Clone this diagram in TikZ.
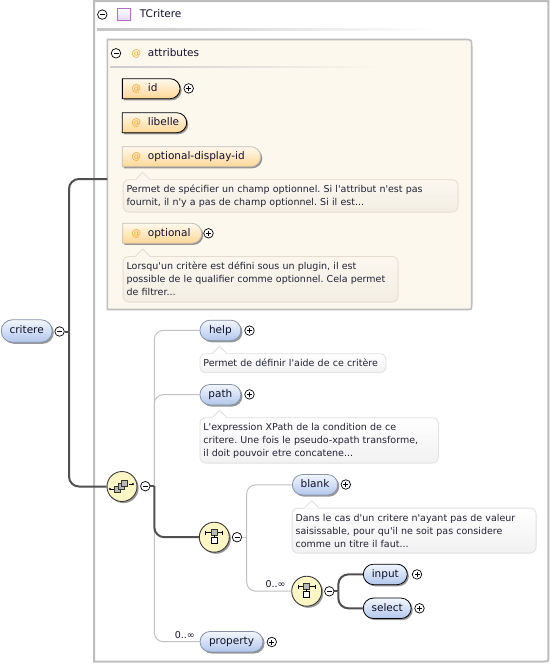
\documentclass[tikz,border=0pt]{standalone}
\usepackage{fontspec}
\setmainfont{DejaVu Sans}[Ligatures=TeXOff]
\usetikzlibrary{shapes.misc,shadows}
\definecolor{boxGray}{HTML}{BDBDBD}
\definecolor{cream}{HTML}{FDF8EE}
\definecolor{elTop}{HTML}{F2F6FD}
\definecolor{elBot}{HTML}{B2C7EC}
\definecolor{elBorder}{HTML}{8692A8}
\definecolor{atTop}{HTML}{FFF9EE}
\definecolor{atBot}{HTML}{FFD795}
\definecolor{atBorder}{HTML}{C2BEB6}
\definecolor{atSym}{HTML}{F0A028}
\definecolor{dscTopA}{HTML}{FBF7EF}
\definecolor{dscBotA}{HTML}{F3EEE3}
\definecolor{dscLineA}{HTML}{E4DDCF}
\definecolor{dscTopB}{HTML}{FFFFFF}
\definecolor{dscBotB}{HTML}{F1F1F1}
\definecolor{dscLineB}{HTML}{E0E0E0}
\definecolor{compFill}{HTML}{FCF6C4}
\definecolor{compLine}{HTML}{3A3A3A}
\definecolor{thinLine}{HTML}{C2C2C2}
\definecolor{thickLine}{HTML}{505050}
\definecolor{txt}{HTML}{10102A}
\definecolor{dtxt}{HTML}{222234}
\definecolor{purpleLine}{HTML}{B070C8}
\definecolor{purpleFill}{HTML}{E2D4F0}
\newcommand\lblfont{\fontsize{10.5}{12}\selectfont}
\newcommand\dscfont{\fontsize{9.5}{13}\selectfont}
\newcommand\atsym{\makebox[16.2pt][l]{\textcolor{atSym}{\fontsize{9.5}{10}\selectfont @}}}
\newcommand\descptr[3]{%
  \fill[#2] ([xshift=13pt,yshift=-1pt]#1.north west) -- ([xshift=20pt,yshift=7pt]#1.north west) -- ([xshift=27pt,yshift=-1pt]#1.north west) -- cycle;
  \draw[#3, line width=0.8pt] ([xshift=13pt]#1.north west) -- ([xshift=20pt,yshift=7pt]#1.north west) -- ([xshift=27pt]#1.north west);}
\tikzset{
  shd/.style={drop shadow={shadow xshift=1.6pt,shadow yshift=-1.6pt,opacity=0.4,fill=black}},
  elem/.style={rounded rectangle, draw=elBorder, line width=0.8pt, top color=elTop, bottom color=elBot,
    minimum height=20.5pt, inner sep=0pt, font=\lblfont, text=txt, text height=7.5pt, text depth=2pt, shd},
  reqd/.style={draw=black},
  attrshape/.style={rounded rectangle, rounded rectangle left arc=none, draw=atBorder, line width=0.8pt,
    top color=atTop, bottom color=atBot, minimum height=20pt, inner sep=0pt, shd},
  attrtext/.style={font=\lblfont, text=txt, inner sep=0pt, anchor=west, text height=7.5pt, text depth=2pt},
  descA/.style={rectangle, rounded corners=6pt, draw=dscLineA, line width=0.8pt, top color=dscTopA, bottom color=dscBotA,
    anchor=north west, align=left, font=\dscfont\frenchspacing, text=dtxt, inner xsep=3.5pt, inner ysep=0pt},
  descB/.style={descA, draw=dscLineB, top color=dscTopB, bottom color=dscBotB},
  pmbase/.style={circle, draw=black, line width=0.7pt, fill=white, minimum size=9.5pt, inner sep=0pt},
  minus/.style={pmbase, path picture={\draw[line width=0.8pt] ([xshift=-2.5pt]path picture bounding box.center) -- ([xshift=2.5pt]path picture bounding box.center);}},
  plus/.style={pmbase, path picture={\draw[line width=0.8pt] ([xshift=-2.5pt]path picture bounding box.center) -- ([xshift=2.5pt]path picture bounding box.center)
      ([yshift=-2.5pt]path picture bounding box.center) -- ([yshift=2.5pt]path picture bounding box.center);}},
  comp/.style={circle, draw=compLine, line width=0.9pt, fill=compFill, minimum size=30pt, inner sep=0pt, shd},
  thinc/.style={draw=thinLine, line width=1pt, rounded corners=9pt},
  thickc/.style={draw=thickLine, line width=2pt, rounded corners=10pt},
  mult/.style={font=\dscfont, text=txt, inner sep=0pt, anchor=east, text height=7pt, text depth=0pt},
}
\begin{document}
\begin{tikzpicture}[x=1pt,y=-1pt]
\useasboundingbox (0,0) rectangle (551,665);
\fill[white] (0,0) rectangle (551,665);

% outer complex type box
\draw[boxGray, line width=2pt] (94,1) -- (548.3,1) -- (548.3,657) .. controls (548.3,661.5) .. (544,661.5) -- (94,661.5) -- cycle;
\node[minus] (mtc) at (102.3,14.6) {};
\node[draw=purpleLine, line width=0.9pt, minimum size=12.5pt, inner sep=0pt, top color=white, bottom color=purpleFill] (tico) at (123.7,14.5) {};
\node[attrtext] (tcrit) at (139.7,14.7) {TCritere};
\shade[left color=black!22, right color=white] (97,28.2) rectangle (436,30);

% attributes group
\path[fill=cream, draw=boxGray, line width=1.6pt] (107.3,39.5) -- (464.5,39.5) .. controls (471.7,39.5) .. (471.7,46.7) -- (471.7,304.5) .. controls (471.7,309.5) .. (466.7,309.5) -- (107.3,309.5) -- cycle;
\coordinate (attrL) at (107.3,179);
\node[minus] (matt) at (116,53.3) {};
\node[attrtext] (atth) at (131.5,53.3) {\atsym attributes};
\shade[left color=black!20, right color=cream] (110,66) rectangle (380,67.6);

\node[attrshape, reqd, minimum width=57.7pt] (aid) at (151.2,88.7) {};
\node[attrtext] at (131.5,88.7) {\atsym id};
\node[plus] (pid) at (188.7,88.4) {};

\node[attrshape, reqd, minimum width=64.4pt] (alib) at (154.5,122.7) {};
\node[attrtext] at (131.5,122.7) {\atsym libelle};

\node[attrshape, minimum width=138.4pt] (aodi) at (191.5,156.7) {};
\node[attrtext] at (131.5,156.7) {\atsym optional-display-id};
\node[descA, text width=328pt, minimum height=32.4pt] (d1) at (122.7,179.3)
  {\mbox{Permet de spécifier un champ optionnel. Si l'attribut n'est pas}\\\mbox{fournit, il n'y a pas de champ optionnel. Si il est...}};
\descptr{d1}{dscTopA}{dscLineA}

\node[attrshape, minimum width=79pt] (aopt) at (162.2,233.3) {};
\node[attrtext] at (131.5,233.3) {\atsym optional};
\node[plus] (popt) at (208.5,233.3) {};
\node[descA, text width=268pt, minimum height=45.7pt] (d2) at (122.7,256)
  {\mbox{Lorsqu'un critère est défini sous un plugin, il est}\\\mbox{possible de le qualifier comme optionnel. Cela permet}\\\mbox{de filtrer...}};
\descptr{d2}{dscTopA}{dscLineA}

% root element
\node[elem, minimum width=51pt, minimum height=22.5pt] (critere) at (26.7,331) {critere};
\node[minus] (mcrit) at (59.6,331.5) {};
\coordinate (vx) at (69,331.5);

% sequence
\node[comp] (seq) at (122,486.5) {};
\begin{scope}[shift={(seq.center)}, line width=0.8pt]
  \draw (-12,2.5) -- (-7,2.5); \fill (-12,2.5) circle (1.2);
  \draw (7,-2.5) -- (11,-2.5); \fill (11,-2.5) circle (1.2);
  \filldraw[fill=gray!55, draw=black!80] (-7.5,0) rectangle (-1.5,6);
  \filldraw[fill=gray!55, draw=black!80] (-4,-3) rectangle (2,3);
  \filldraw[fill=gray!55, draw=black!80] (-0.5,-6) rectangle (5.5,0);
\end{scope}
\node[minus] (mseq) at (145.3,486.2) {};
\coordinate (sx) at (154.3,486.2);

\node[elem, minimum width=41pt] (help) at (220.4,330.4) {help};
\node[plus] (phelp) at (249.5,330.6) {};
\node[descB, text width=179pt, minimum height=19pt] (dh) at (199.5,353.3)
  {\mbox{Permet de définir l'aide de ce critère}};
\descptr{dh}{dscTopB}{dscLineB}

\node[elem, minimum width=41pt] (path) at (220.4,394.7) {path};
\node[plus] (ppath) at (249.5,394.4) {};
\node[descB, text width=231.5pt, minimum height=45.4pt] (dp) at (199.5,417.3)
  {\mbox{L'expression XPath de la condition de ce}\\\mbox{critere. Une fois le pseudo-xpath transforme,}\\\mbox{il doit pouvoir etre concatene...}};
\descptr{dp}{dscTopB}{dscLineB}

% choice 1
\node[comp] (ch1) at (214.3,537.2) {};
\node[minus] (mch1) at (237,537.2) {};
\coordinate (cx) at (246.7,537.2);

\node[elem, minimum width=45.4pt] (blank) at (315,484.8) {blank};
\node[plus] (pblank) at (345.8,484.5) {};
\node[descB, text width=237pt, minimum height=45pt] (db) at (291.7,507.7)
  {\mbox{Dans le cas d'un critere n'ayant pas de valeur}\\\mbox{saisissable, pour qu'il ne soit pas considere}\\\mbox{comme un titre il faut...}};
\descptr{db}{dscTopB}{dscLineB}

% choice 2
\node[comp] (ch2) at (306.7,591.2) {};
\node[minus] (mch2) at (329.3,591.3) {};
\coordinate (c2x) at (338.3,591.3);

\node[elem, reqd, minimum width=44pt] (input) at (385.3,574.4) {input};
\node[plus] (pinput) at (417,574.4) {};
\node[elem, reqd, minimum width=48pt] (select) at (387.2,608.3) {select};
\node[plus] (pselect) at (419.5,608.3) {};

\node[elem, minimum width=63pt] (property) at (231.5,641.7) {property};
\node[plus] (pprop) at (271.8,642) {};

\foreach \ch in {ch1,ch2}{
\begin{scope}[shift={(\ch.center)}, line width=0.8pt]
  \draw (-8.5,-4.5) -- (8.5,-4.5);
  \draw (-8.5,-6.5) -- (-8.5,-2.5) (8.5,-6.5) -- (8.5,-2.5);
  \filldraw[fill=gray!55, draw=black!80] (-3,-7.5) rectangle (3,-2);
  \draw (0,-2) -- (0,0.5);
  \filldraw[fill=white, draw=black] (-3,0.5) rectangle (3,6.5);
\end{scope}}

\node[mult] (m1) at ([xshift=-5.5pt,yshift=7pt]ch2.west) {0..∞};
\node[mult] (m2) at ([xshift=-4.5pt,yshift=6.5pt]property.west) {0..∞};

% connectors
\draw[thinc] (sx) |- (help.west);
\draw[thinc] (sx) |- (path.west);
\draw[thinc] (sx) |- (property.west);
\draw[thinc] (cx) |- (blank.west);
\draw[thinc] (cx) |- (ch2.west);
\draw[thinLine, line width=1pt] (mch1.east) -- (cx);

\draw[thickc] (vx) |- (attrL);
\draw[thickc] (vx) |- (seq.west);
\draw[thickLine, line width=2pt] (mcrit.east) -- (vx);
\draw[thickLine, line width=2pt] (mseq.east) -- (sx);
\draw[thickc] (sx) |- (ch1.west);
\draw[thickLine, line width=2pt] (mch2.east) -- (c2x);
\draw[thickc] (c2x) |- (input.west);
\draw[thickc] (c2x) |- (select.west);
\end{tikzpicture}
\end{document}
